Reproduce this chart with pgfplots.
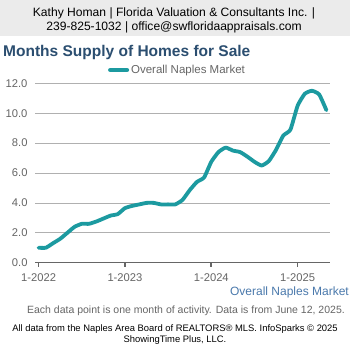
\documentclass[border=0pt]{standalone}
\usepackage{pgfplots}
\pgfplotsset{compat=1.18}
\usepackage{fontspec}
\setmainfont{Liberation Sans}
\definecolor{teal1}{HTML}{1C9AA0}
\definecolor{titleblue}{HTML}{2B4E70}
\definecolor{tickgray}{HTML}{666666}
\definecolor{gridgray}{HTML}{B0B0B0}
\definecolor{hdrgray}{HTML}{EBEBEB}
\definecolor{linkblue}{HTML}{4A79AC}
\begin{document}
\begin{tikzpicture}
\useasboundingbox (0bp,0bp) rectangle (350bp,350bp);
\fill[white] (0bp,0bp) rectangle (350bp,350bp);
\fill[hdrgray] (0bp,314bp) rectangle (350bp,350bp);
\node[font=\fontsize{12.1bp}{14bp}\selectfont, text=black, anchor=base, inner sep=0] at (174bp,333.3bp) {Kathy Homan | Florida Valuation \& Consultants Inc. |};
\node[font=\fontsize{12.1bp}{14bp}\selectfont, text=black, anchor=base, inner sep=0] at (174bp,319.3bp) {239-825-1032 | office@swfloridaappraisals.com};
\node[font=\fontsize{15.5bp}{18bp}\selectfont\bfseries, text=titleblue, anchor=base west, inner sep=0] at (3bp,293.3bp) {Months Supply of Homes for Sale};
\begin{axis}[
  scale only axis,
  width=295bp, height=179.4bp,
  at={(35bp,87.3bp)}, anchor=south west,
  xmin=-0.5, xmax=40.5,
  ymin=0, ymax=12,
  xtick={0,12,24,36},
  xticklabels={1-2022,1-2023,1-2024,1-2025},
  ytick={0,2,4,6,8,10,12},
  yticklabel style={/pgf/number format/.cd,fixed,fixed zerofill,precision=1},
  /pgf/number format/assume math mode=true,
  ticklabel style={font=\fontsize{11.2bp}{13bp}\selectfont, text=tickgray},
  axis x line*=bottom, axis y line*=left,
  x axis line style={draw=tickgray, line width=1.6bp},
  y axis line style={draw=none},
  ytick style={draw=none},
  xtick style={draw=tickgray, line width=1.6bp},
  xtick align=outside,
  major tick length=4bp,
  ymajorgrids,
  grid style={draw=gridgray, line width=0.7bp},
  xticklabel shift=3bp,
  yticklabel shift=4bp,
  clip=false,
  legend style={at={(0.5,1)}, xshift=-5bp, yshift=13.3bp, anchor=center, draw=none, fill=none, inner sep=0pt, font=\fontsize{11.5bp}{13bp}\selectfont, text=tickgray, legend cell align=left},
  legend image code/.code={\draw[teal1, line width=4bp] (0bp,0bp) -- (17bp,0bp);},
]
\addplot[teal1, line width=3.8bp, line join=round, line cap=round, smooth, tension=0.3] coordinates {
(0,1.0)(1,1.0)(2,1.3)(3,1.6)(4,2.0)(5,2.4)(6,2.6)(7,2.6)(8,2.75)(9,2.95)
(10,3.15)(11,3.25)(12,3.65)(13,3.8)(14,3.9)(15,4.0)(16,4.0)(17,3.9)(18,3.9)(19,3.9)
(20,4.2)(21,4.85)(22,5.4)(23,5.7)(24,6.75)(25,7.4)(26,7.7)(27,7.5)(28,7.4)(29,7.1)
(30,6.75)(31,6.5)(32,6.8)(33,7.55)(34,8.5)(35,8.9)(36,10.5)(37,11.3)(38,11.5)(39,11.25)(40,10.2)
};
\addlegendentry{Overall Naples Market}
\end{axis}
\node[font=\fontsize{12bp}{14bp}\selectfont, text=linkblue, anchor=base east, inner sep=0] at (349bp,54bp) {Overall Naples Market};
\node[font=\fontsize{10.5bp}{12bp}\selectfont, text=tickgray, anchor=base east, inner sep=0] at (345bp,36.7bp) {Each data point is one month of activity. Data is from June 12, 2025.};
\node[font=\fontsize{9.4bp}{11bp}\selectfont, text=black, anchor=base, inner sep=0] at (175bp,18.3bp) {All data from the Naples Area Board of REALTORS® MLS. InfoSparks © 2025};
\node[font=\fontsize{9.4bp}{11bp}\selectfont, text=black, anchor=base, inner sep=0] at (175bp,7.5bp) {ShowingTime Plus, LLC.};
\end{tikzpicture}
\end{document}
